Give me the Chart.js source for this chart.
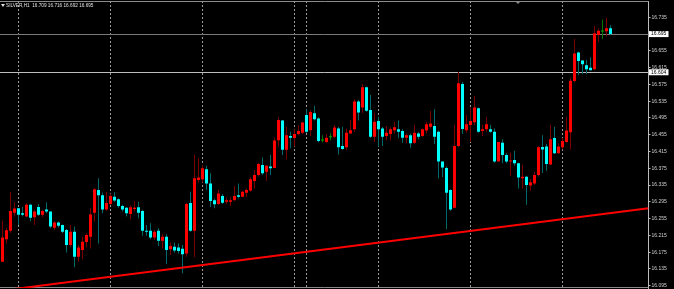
<!DOCTYPE html>
<html>
<head>
<meta charset="utf-8">
<script src="https://cdn.jsdelivr.net/npm/chart.js@4/dist/chart.umd.min.js"></script>
<style>
  html, body { margin:0; padding:0; background:#000; }
  #wrap { width:674px; height:289px; }
</style>
</head>
<body>
<div id="wrap"><canvas id="c" width="674" height="289"></canvas></div>
<script>
// SILVER H1 candles (oldest first)
const opens = [
  16.152,16.206,16.226,16.269,16.280,16.268,16.260,16.288,16.258,16.283,
  16.264,16.277,16.272,16.233,16.246,16.240,16.228,16.192,16.224,16.164,
  16.180,16.199,16.212,16.269,16.323,16.311,16.277,16.290,16.307,16.301,
  16.285,16.281,16.266,16.278,16.282,16.273,16.226,16.226,16.210,16.226,
  16.202,16.212,16.182,16.188,16.186,16.183,16.172,16.292,16.226,16.347,
  16.349,16.373,16.339,16.299,16.290,16.309,16.295,16.295,16.299,16.311,
  16.307,16.317,16.322,16.345,16.359,16.383,16.367,16.379,16.376,16.442,
  16.489,16.419,16.452,16.447,16.457,16.460,16.502,16.466,16.506,16.494,
  16.441,16.438,16.449,16.450,16.470,16.428,16.425,16.458,16.468,16.534,
  16.520,16.568,16.514,16.450,16.488,16.470,16.452,16.457,16.466,16.468,
  16.464,16.448,16.454,16.436,16.458,16.452,16.465,16.474,16.476,16.462,
  16.391,16.376,16.323,16.281,16.428,16.576,16.466,16.478,16.485,16.518,
  16.464,16.468,16.468,16.462,16.391,16.436,16.407,16.391,16.395,16.387,
  16.351,16.355,16.334,16.339,16.359,16.426,16.427,16.384,16.447,16.411,
  16.425,16.438,16.461,16.583,16.651,16.632,16.621,16.615,16.611,16.693,
  16.701,16.702,16.709
];
const highs = [
  16.250,16.233,16.319,16.295,16.280,16.283,16.292,16.290,16.276,16.290,
  16.276,16.294,16.272,16.249,16.248,16.241,16.230,16.240,16.236,16.192,
  16.212,16.220,16.281,16.327,16.351,16.317,16.319,16.315,16.318,16.303,
  16.288,16.283,16.287,16.297,16.295,16.276,16.240,16.244,16.228,16.232,
  16.218,16.218,16.198,16.198,16.196,16.192,16.293,16.319,16.407,16.399,
  16.383,16.381,16.363,16.303,16.323,16.314,16.306,16.307,16.333,16.339,
  16.321,16.327,16.354,16.371,16.387,16.401,16.383,16.407,16.449,16.497,
  16.490,16.474,16.462,16.468,16.478,16.486,16.516,16.514,16.524,16.497,
  16.454,16.457,16.458,16.478,16.474,16.474,16.470,16.490,16.540,16.538,
  16.576,16.570,16.550,16.506,16.498,16.474,16.476,16.473,16.486,16.489,
  16.468,16.458,16.458,16.478,16.462,16.470,16.486,16.512,16.516,16.465,
  16.391,16.379,16.325,16.478,16.605,16.581,16.502,16.520,16.547,16.520,
  16.478,16.497,16.478,16.470,16.438,16.444,16.411,16.412,16.417,16.388,
  16.383,16.357,16.349,16.367,16.428,16.454,16.433,16.478,16.474,16.435,
  16.447,16.497,16.590,16.683,16.653,16.633,16.633,16.640,16.714,16.709,
  16.729,16.734,16.716
];
const lows = [
  16.152,16.196,16.221,16.260,16.240,16.260,16.258,16.249,16.240,16.261,
  16.258,16.268,16.232,16.228,16.234,16.221,16.174,16.187,16.139,16.152,
  16.158,16.187,16.184,16.248,16.196,16.268,16.274,16.288,16.295,16.281,
  16.272,16.260,16.254,16.272,16.256,16.214,16.214,16.206,16.204,16.190,
  16.184,16.147,16.168,16.174,16.172,16.125,16.164,16.224,16.163,16.341,
  16.341,16.323,16.283,16.280,16.288,16.290,16.290,16.285,16.298,16.303,
  16.306,16.307,16.319,16.327,16.355,16.359,16.345,16.359,16.375,16.427,
  16.407,16.396,16.423,16.427,16.454,16.457,16.460,16.452,16.489,16.437,
  16.437,16.435,16.442,16.447,16.408,16.419,16.419,16.457,16.462,16.489,
  16.506,16.510,16.447,16.438,16.427,16.428,16.442,16.441,16.458,16.447,
  16.436,16.435,16.424,16.433,16.444,16.450,16.458,16.470,16.433,16.351,
  16.354,16.230,16.274,16.281,16.425,16.457,16.460,16.438,16.478,16.460,
  16.452,16.462,16.460,16.388,16.391,16.387,16.387,16.357,16.381,16.327,
  16.327,16.288,16.322,16.335,16.355,16.364,16.369,16.383,16.409,16.409,
  16.420,16.436,16.420,16.581,16.597,16.599,16.600,16.608,16.609,16.677,
  16.683,16.689,16.692
];
const closes = [
  16.210,16.227,16.273,16.279,16.264,16.264,16.288,16.257,16.272,16.264,
  16.273,16.272,16.236,16.246,16.238,16.224,16.192,16.224,16.164,16.186,
  16.200,16.216,16.265,16.325,16.311,16.277,16.292,16.309,16.298,16.285,
  16.277,16.268,16.282,16.281,16.269,16.226,16.224,16.210,16.224,16.202,
  16.212,16.180,16.190,16.179,16.178,16.170,16.290,16.226,16.351,16.353,
  16.375,16.339,16.297,16.289,16.315,16.293,16.299,16.299,16.309,16.307,
  16.319,16.323,16.349,16.359,16.385,16.363,16.381,16.375,16.441,16.490,
  16.419,16.454,16.448,16.457,16.464,16.484,16.462,16.509,16.492,16.440,
  16.441,16.448,16.449,16.472,16.425,16.421,16.460,16.466,16.534,16.508,
  16.568,16.512,16.450,16.486,16.468,16.450,16.460,16.468,16.473,16.462,
  16.448,16.454,16.435,16.460,16.450,16.468,16.480,16.482,16.450,16.391,
  16.377,16.317,16.277,16.428,16.578,16.469,16.480,16.488,16.520,16.462,
  16.468,16.480,16.462,16.391,16.438,16.407,16.391,16.393,16.387,16.353,
  16.355,16.335,16.342,16.359,16.425,16.420,16.385,16.444,16.411,16.427,
  16.440,16.465,16.584,16.649,16.631,16.623,16.611,16.609,16.697,16.703,
  16.701,16.709,16.695
];

const SLOTS = 162;                 // bar slots incl. empty right shift
const yTicks = [16.095,16.135,16.175,16.215,16.255,16.295,16.335,16.375,16.415,
                16.455,16.495,16.535,16.575,16.615,16.655,16.695,16.735];
const separators = [4, 27, 50, 73, 76, 94, 117, 140];   // dotted grid bars
const trendX = [-0.5, 161.5];
const trendY = [16.083, 16.280];
const bidPrice = 16.695;
const levelPrice = 16.604;
const header = 'SILVER,H1  16.709 16.716 16.692 16.695';

const UP = '#ff0000', DOWN = '#00ffff', DOJI = '#00b000';
const UP_W = '#7a0000', DOWN_W = '#006a6a', DOJI_W = '#007a00';

const dir = opens.map((o, i) => closes[i] > o ? 1 : closes[i] < o ? -1 : 0);
const bodyCol = dir.map(d => d > 0 ? UP : d < 0 ? DOWN : DOJI);
const wickCol = dir.map(d => d > 0 ? UP_W : d < 0 ? DOWN_W : DOJI_W);

const mtPlugin = {
  id: 'mt',
  beforeDraw(chart) {
    const { ctx, width, height } = chart;
    ctx.save();
    ctx.fillStyle = '#000';
    ctx.fillRect(0, 0, width, height);
    ctx.restore();
  },
  beforeDatasetsDraw(chart) {
    const { ctx, chartArea: a, scales } = chart;
    ctx.save();
    // frame
    ctx.strokeStyle = '#8a8a8a';
    ctx.lineWidth = 1;
    ctx.beginPath();
    ctx.moveTo(0, 1.5); ctx.lineTo(a.right, 1.5);
    ctx.moveTo(0, 287.5); ctx.lineTo(a.right, 287.5);
    ctx.stroke();
    // dotted separators
    ctx.strokeStyle = '#9a9a9a';
    ctx.setLineDash([2, 2]);
    separators.forEach(s => {
      const x = scales.x.getPixelForValue(s);
      ctx.beginPath(); ctx.moveTo(x, a.top); ctx.lineTo(x, a.bottom); ctx.stroke();
    });
    ctx.setLineDash([]);
    // price lines
    const yb = Math.floor(scales.y.getPixelForValue(bidPrice)) + 0.5;
    const yl = Math.floor(scales.y.getPixelForValue(levelPrice)) + 0.5;
    ctx.strokeStyle = '#7a7a7a';
    ctx.beginPath(); ctx.moveTo(0, yb); ctx.lineTo(a.right, yb); ctx.stroke();
    ctx.strokeStyle = '#bdbdbd';
    ctx.beginPath(); ctx.moveTo(0, yl); ctx.lineTo(a.right, yl); ctx.stroke();
    ctx.restore();
  },
  afterDraw(chart) {
    const { ctx, chartArea: a, scales } = chart;
    ctx.save();
    ctx.font = '5px "Liberation Sans"';
    ctx.textBaseline = 'middle';
    [bidPrice, levelPrice].forEach(p => {
      const y = scales.y.getPixelForValue(p);
      ctx.fillStyle = '#ffffff';
      ctx.fillRect(a.right + 0.5, y - 3, 19.5, 6);
      ctx.fillStyle = '#000';
      ctx.fillText(p.toFixed(3), a.right + 2.5, y);
    });
    // header
    ctx.fillStyle = '#e0e0e0';
    ctx.beginPath(); ctx.moveTo(1, 4); ctx.lineTo(5, 4); ctx.lineTo(3, 7); ctx.closePath(); ctx.fill();
    ctx.font = '4.7px "Liberation Sans"';
    ctx.fillText(header, 6, 5.5);
    // chart-shift marker
    ctx.fillStyle = '#8a8a8a';
    ctx.beginPath(); ctx.moveTo(515, 1); ctx.lineTo(521, 1); ctx.lineTo(518, 4); ctx.closePath(); ctx.fill();
    ctx.restore();
  }
};

new Chart(document.getElementById('c'), {
  data: {
    labels: Array.from({ length: SLOTS }, (_, i) => i),
    datasets: [
      {
        type: 'line', xAxisID: 'xl', yAxisID: 'y', order: 0,
        data: trendX.map((x, i) => ({ x, y: trendY[i] })),
        borderColor: '#ff0000', borderWidth: 2, pointRadius: 0, tension: 0
      },
      {
        type: 'bar', order: 1, grouped: false,
        data: opens.map((o, i) => [o, closes[i]]),
        backgroundColor: bodyCol, barThickness: 3, minBarLength: 1, inflateAmount: 0
      },
      {
        type: 'bar', order: 2, grouped: false,
        data: lows.map((l, i) => [l, highs[i]]),
        backgroundColor: wickCol, barThickness: 1, inflateAmount: 0
      }
    ]
  },
  options: {
    responsive: false,
    animation: false,
    devicePixelRatio: 1,
    layout: { padding: { left: 0.5, top: 1, right: 0, bottom: 1 } },
    plugins: { legend: { display: false }, tooltip: { enabled: false } },
    scales: {
      x: { type: 'category', display: false, offset: true },
      xl: { type: 'linear', display: false, min: -0.5, max: SLOTS - 0.5 },
      y: {
        position: 'right',
        min: 16.0896, max: 16.7739,
        afterBuildTicks: s => { s.ticks = yTicks.map(v => ({ value: v })); },
        afterFit: s => { s.width = 25.5; s.paddingTop = 0; s.paddingBottom = 0; },
        ticks: {
          color: '#d0d0d0', padding: 1, autoSkip: false,
          font: { family: 'Liberation Sans', size: 5 },
          callback: v => Number(v).toFixed(3)
        },
        grid: { drawOnChartArea: false, drawTicks: true, tickLength: 2, color: '#bdbdbd' },
        border: { display: true, color: '#bdbdbd' }
      }
    }
  },
  plugins: [mtPlugin]
});
</script>
</body>
</html>
